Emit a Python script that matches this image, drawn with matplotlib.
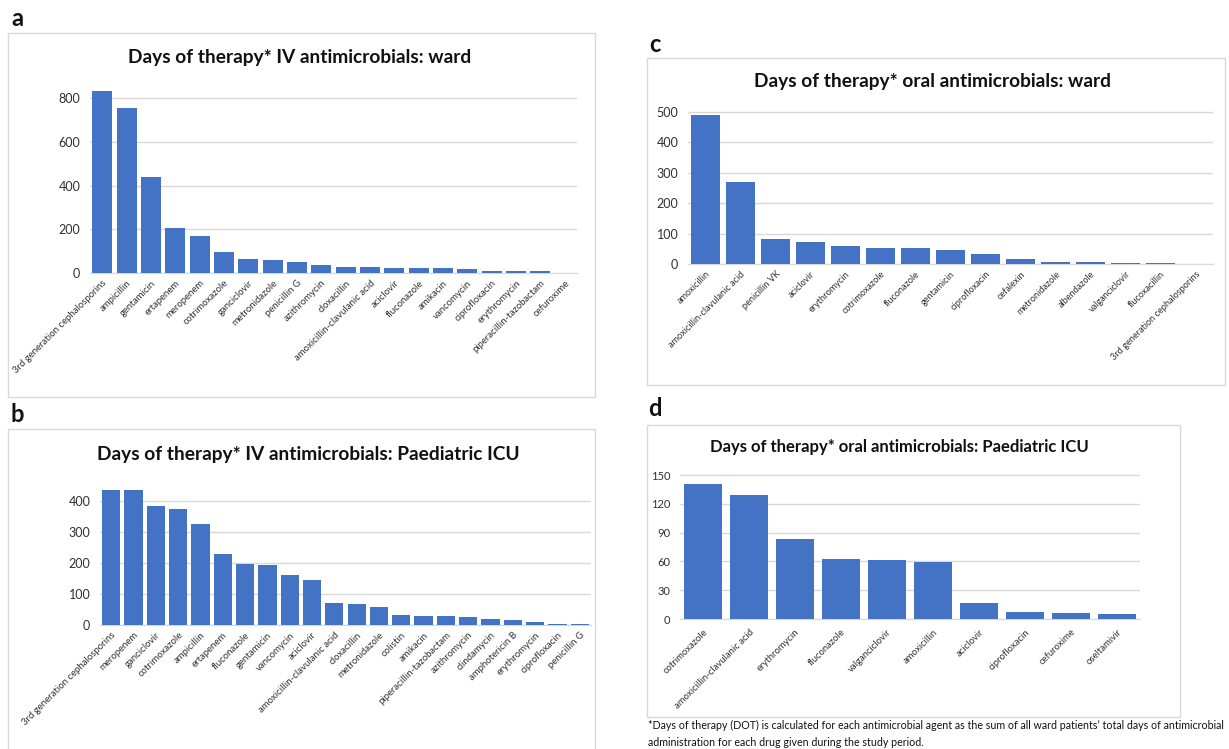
import matplotlib
matplotlib.use("Agg")
import matplotlib.pyplot as plt
from matplotlib.patches import Rectangle

W, H = 1229, 749
DPI = 100
BLUE = "#4472C4"
GRID = "#d9d9d9"
TXT = "#303030"
plt.rcParams['font.family'] = ['Lato', 'DejaVu Sans']

# ---------------- data ----------------
a_cats = ["3rd generation cephalosporins", "ampicillin", "gentamicin", "ertapenem", "meropenem",
          "cotrimoxazole", "ganciclovir", "metronidazole", "penicillin G", "azithromycin",
          "cloxacillin", "amoxicillin-clavulanic acid", "aciclovir", "fluconazole", "amikacin",
          "vancomycin", "ciprofloxacin", "erythromycin", "piperacillin-tazobactam", "cefuroxime"]
a_vals = [833, 757, 442, 206, 168, 96, 64, 60, 52, 35, 28, 26, 23, 21, 21, 20, 9, 7, 7, 2]
a_ticks = [0, 200, 400, 600, 800]

b_cats = ["3rd generation cephalosporins", "meropenem", "ganciclovir", "cotrimoxazole", "ampicillin",
          "ertapenem", "fluconazole", "gentamicin", "vancomycin", "aciclovir",
          "amoxicillin-clavulanic acid", "cloxacillin", "metronidazole", "colistin", "amikacin",
          "piperacillin-tazobactam", "azithromycin", "clindamycin", "amphotericin B", "erythromycin",
          "ciprofloxacin", "penicillin G"]
b_vals = [436, 434, 384, 374, 326, 228, 196, 194, 161, 145, 70, 66, 58, 33, 28, 28, 27, 20, 17, 11, 3, 3]
b_ticks = [0, 100, 200, 300, 400]

c_cats = ["amoxicillin", "amoxicillin-clavulanic acid", "penicillin VK", "aciclovir", "erythromycin",
          "cotrimoxazole", "fluconazole", "gentamicin", "ciprofloxacin", "cefalexin",
          "metronidazole", "albendazole", "valganciclovir", "flucoxacillin", "3rd generation cephalosporins"]
c_vals = [490, 271, 81, 71, 58, 53, 51, 45, 33, 16, 8, 8, 4, 4, 1]
c_ticks = [0, 100, 200, 300, 400, 500]

d_cats = ["cotrimoxazole", "amoxicillin-clavulanic acid", "erythromycin", "fluconazole", "valganciclovir",
          "amoxicillin", "aciclovir", "ciprofloxacin", "cefuroxime", "oseltamivir"]
d_vals = [141, 129, 83, 62, 61, 59, 17, 7, 6, 5]
d_ticks = [0, 30, 60, 90, 120, 150]

footnote = ("*Days of therapy (DOT) is calculated for each antimicrobial agent as the sum of all ward patients\u2019 total days of antimicrobial\n"
            "administration for each drug given during the study period.")

fig = plt.figure(figsize=(W / DPI, H / DPI), dpi=DPI)
fig.patch.set_facecolor("white")


def fx(x):
    return x / W


def fy(y):
    return 1 - y / H


def box(x0, y0, x1, y1):
    fig.patches.append(Rectangle((fx(x0), fy(y1)), fx(x1 - x0), (y1 - y0) / H,
                                 transform=fig.transFigure, fill=False,
                                 edgecolor=GRID, linewidth=1.0, zorder=0))


def panel(cats, vals, ticks, left, right, y0, yref_px, yref_val, ytop,
          title, tx, ty, tfs, xfs, yfs, xpad=3, width=0.82):
    top_px = y0 - (y0 - yref_px) * ytop / yref_val
    ax = fig.add_axes([fx(left), fy(y0), fx(right - left), (y0 - top_px) / H])
    x = range(len(cats))
    ax.bar(x, vals, width=width, color=BLUE, zorder=3)
    ax.set_xlim(-0.5, len(cats) - 0.5)
    ax.set_ylim(0, ytop)
    ax.set_yticks(ticks)
    ax.set_yticklabels([str(t) for t in ticks], fontsize=yfs, color=TXT)
    ax.set_xticks(list(x))
    ax.set_xticklabels(cats, rotation=45, ha="right", rotation_mode="anchor",
                       fontsize=xfs, color=TXT)
    ax.tick_params(axis="both", length=0)
    ax.tick_params(axis="y", pad=7)
    ax.tick_params(axis="x", pad=xpad)
    for s in ["top", "right", "left"]:
        ax.spines[s].set_visible(False)
    ax.spines["bottom"].set_color(GRID)
    ax.yaxis.grid(True, color=GRID, linewidth=1.0, zorder=0)
    ax.set_axisbelow(True)
    ax.patch.set_alpha(0)
    fig.text(fx(tx), fy(ty), title, ha="center", va="center",
             fontsize=tfs, fontweight="bold", color="#111111")
    return ax


# boxes
box(8, 33, 595, 397)
box(8, 429, 595, 752)
box(647, 58, 1225, 385)
box(647, 425, 1180, 717)

# panel letters
for lab, px, py in [("a", 17, 18), ("b", 17, 414), ("c", 655, 44), ("d", 655, 408)]:
    fig.text(fx(px), fy(py), lab, ha="center", va="center", fontsize=17,
             fontweight="bold", color="#111111")

panel(a_cats, a_vals, a_ticks, 90, 577, 273, 98.5, 800, 850,
      "Days of therapy* IV antimicrobials: ward", 300, 58, 13.8, 6.9, 9, xpad=4)
panel(b_cats, b_vals, b_ticks, 100, 591, 625, 500.7, 400, 445,
      "Days of therapy* IV antimicrobials: Paediatric ICU", 308, 454, 13.8, 6.9, 9, xpad=4)
panel(c_cats, c_vals, c_ticks, 688, 1213, 264, 112, 500, 505,
      "Days of therapy* oral antimicrobials: ward", 932, 82, 13.8, 6.6, 9, xpad=4)
panel(d_cats, d_vals, d_ticks, 680, 1140, 619, 475, 150, 153,
      "Days of therapy* oral antimicrobials: Paediatric ICU", 899, 447, 12, 6.8, 8, xpad=6)

fig.text(fx(648), fy(734), footnote, ha="left", va="center", fontsize=7.7,
         color="#111111", linespacing=1.6)

fig.savefig("out.png", dpi=DPI, facecolor="white")
